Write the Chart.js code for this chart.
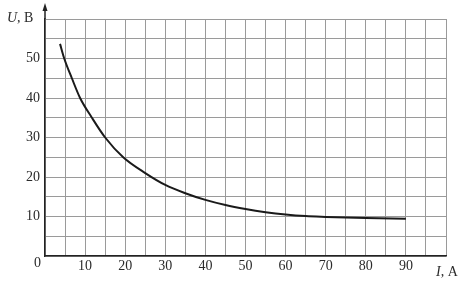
<!DOCTYPE html>
<html>
<head>
<meta charset="utf-8">
<script src="https://cdn.jsdelivr.net/npm/chart.js@4.4.1/dist/chart.umd.min.js"></script>
<style>
  html, body { margin: 0; padding: 0; background: #fff; }
  #wrap { width: 473px; height: 283px; position: relative; }
</style>
</head>
<body>
<div id="wrap"><canvas id="uiChart"></canvas></div>
<script>
// Current I (A) and voltage U (V)
const currentA = [3.75, 4.8, 6.7, 8.75, 11.7, 15, 19.5, 25, 30, 35, 40, 45, 50, 55, 60, 65, 70, 80, 90];
const voltageV = [53.7, 50, 45, 40, 35, 30, 25, 21, 18, 15.9, 14.2, 12.9, 11.9, 11.1, 10.5, 10.1, 9.9, 9.6, 9.4];

const xTicks = [10, 20, 30, 40, 50, 60, 70, 80, 90];
const yTicks = [10, 20, 30, 40, 50];

const FONT = "'Liberation Serif', 'DejaVu Serif', serif";
const TEXT_COLOR = '#2b2b2b';

// Extra labels: corner zero, axis names, arrow on U axis
const axisDecor = {
    id: 'axisDecor',
    afterDraw(chart) {
        const ctx = chart.ctx;
        const x0 = chart.scales.x.getPixelForValue(0);
        const y0 = chart.scales.y.getPixelForValue(0);
        ctx.save();
        ctx.strokeStyle = '#222';
        ctx.fillStyle = '#222';
        ctx.lineWidth = 1.5;
        // y axis extension with arrow
        ctx.beginPath();
        ctx.moveTo(x0, chart.chartArea.top);
        ctx.lineTo(x0, 8);
        ctx.stroke();
        ctx.beginPath();
        ctx.moveTo(x0, 3);
        ctx.lineTo(x0 - 2.5, 11);
        ctx.lineTo(x0 + 2.5, 11);
        ctx.closePath();
        ctx.fill();

        ctx.fillStyle = TEXT_COLOR;
        ctx.font = '14px ' + FONT;
        ctx.textBaseline = 'middle';
        ctx.textAlign = 'right';
        ctx.fillText('0', x0 - 4, y0 + 7);

        // U, B
        ctx.textAlign = 'left';
        ctx.font = 'italic 14px ' + FONT;
        ctx.fillText('U', 7, 18);
        let w = ctx.measureText('U').width;
        ctx.font = '14px ' + FONT;
        ctx.fillText(', В', 7 + w, 18);

        // I, A
        ctx.font = 'italic 14px ' + FONT;
        ctx.fillText('I', 436, 272);
        w = ctx.measureText('I').width;
        ctx.font = '14px ' + FONT;
        ctx.fillText(', А', 436 + w, 272);
        ctx.restore();
    }
};

new Chart(document.getElementById('uiChart').getContext('2d'), {
    type: 'line',
    data: {
        datasets: [{
            data: currentA.map((x, i) => ({ x: x, y: voltageV[i] })),
            borderColor: '#1a1a1a',
            borderWidth: 2,
            pointRadius: 0,
            fill: false,
            cubicInterpolationMode: 'monotone'
        }]
    },
    options: {
        responsive: true,
        maintainAspectRatio: false,
        animation: false,
        layout: { padding: { top: 19, right: 27, left: 0, bottom: 0 } },
        plugins: {
            legend: { display: false },
            tooltip: { enabled: false }
        },
        scales: {
            x: {
                type: 'linear',
                min: 0,
                max: 100,
                afterFit: s => { s.height = 27; },
                ticks: {
                    stepSize: 5,
                    autoSkip: false,
                    maxRotation: 0,
                    padding: 2,
                    color: TEXT_COLOR,
                    font: { family: FONT, size: 14 },
                    callback: v => xTicks.includes(v) ? String(v) : ''
                },
                grid: { color: '#9a9a9a', lineWidth: 1, drawTicks: false },
                border: { display: true, color: '#222', width: 1.5 }
            },
            y: {
                type: 'linear',
                min: 0,
                max: 60,
                afterFit: s => { s.width = 45; },
                ticks: {
                    stepSize: 5,
                    autoSkip: false,
                    padding: 5,
                    color: TEXT_COLOR,
                    font: { family: FONT, size: 14 },
                    callback: v => yTicks.includes(v) ? String(v) : ''
                },
                grid: { color: '#9a9a9a', lineWidth: 1, drawTicks: false },
                border: { display: true, color: '#222', width: 1.5 }
            }
        }
    },
    plugins: [axisDecor]
});
</script>
</body>
</html>
